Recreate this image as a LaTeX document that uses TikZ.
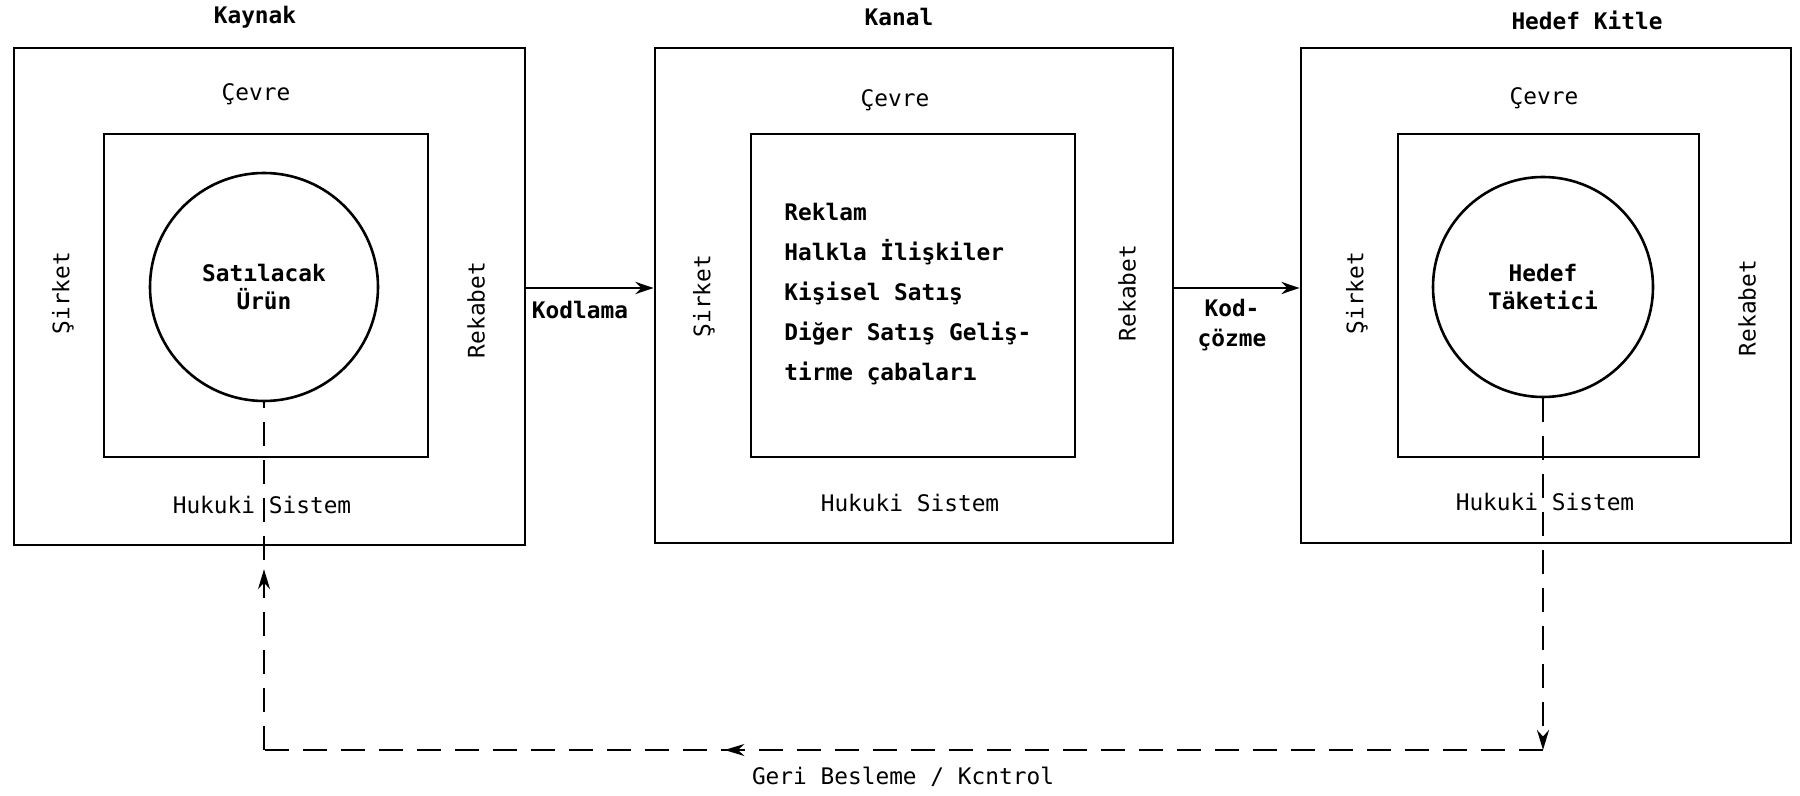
\documentclass[tikz,border=0pt]{standalone}
\usepackage{fontspec}
\setmainfont{DejaVu Sans Mono}
\usetikzlibrary{arrows.meta,decorations.markings}
\begin{document}
\begin{tikzpicture}[x=0.5pt,y=-0.5pt,
  box/.style={draw, line width=1.4pt, rectangle, inner sep=0pt},
  ring/.style={draw, line width=1.3pt, circle, inner sep=0pt, align=center, font=\fontsize{11.4}{14}\selectfont\bfseries},
  lbl/.style={font=\fontsize{11.4}{14}\selectfont, inner sep=0pt},
  blbl/.style={font=\fontsize{11.4}{15}\selectfont\bfseries, inner sep=0pt, align=center},
  side/.style={lbl, rotate=90},
  arr/.style={line width=1.4pt, -{Stealth[length=9pt,width=6pt]}},
  fb/.style={line width=1.3pt, dash pattern=on 12pt off 7pt},
  tipmark/.style={postaction={decorate}, decoration={markings, mark=at position #1 with {\arrow[solid,line width=1pt]{Stealth[length=10pt,width=6pt]}}}}
]
\useasboundingbox (0,0) rectangle (1800,796);
\fill[white] (0,0) rectangle (1800,796);

% Box 1 : Kaynak
\node[box, minimum width=255.5pt, minimum height=248.5pt] (o1) at (269.5,296.5) {};
\node[box, minimum width=162pt, minimum height=161.5pt] (i1) at (266,295.5) {};
\node[ring, minimum size=114pt] (c1) at (264,287) {Satılacak\\Ürün};
\node[blbl] (t1) at (255,17) {Kaynak};
\node[lbl] (cv1) at (256,94) {Çevre};
\node[side] (s1) at (63,293) {Şirket};
\node[side] (r1) at (476,310) {Rekabet};
\node[lbl] (h1) at (262,505) {Hukuki Sistem};

% Box 2 : Kanal
\node[box, minimum width=259pt, minimum height=247.5pt] (o2) at (914,295.5) {};
\node[box, minimum width=162pt, minimum height=161.5pt] (i2) at (913,295.5) {};
\node[blbl, anchor=west, align=left, font=\fontsize{11.4}{20}\selectfont\bfseries] (m2) at (784,294) {Reklam\\Halkla İlişkiler\\Kişisel Satış\\Diğer Satış Geliş-\\tirme çabaları};
\node[blbl] (t2) at (899,17) {Kanal};
\node[lbl] (cv2) at (895,100) {Çevre};
\node[side] (s2) at (704,296) {Şirket};
\node[side] (r2) at (1127,293) {Rekabet};
\node[lbl] (h2) at (910,503) {Hukuki Sistem};

% Box 3 : Hedef Kitle
\node[box, minimum width=245pt, minimum height=247.5pt] (o3) at (1546,295.5) {};
\node[box, minimum width=150.5pt, minimum height=161.5pt] (i3) at (1548.5,295.5) {};
\node[ring, minimum size=110pt] (c3) at (1543,287) {Hedef\\Täketici};
\node[blbl] (t3) at (1587,20) {Hedef Kitle};
\node[lbl] (cv3) at (1544,98) {Çevre};
\node[side] (s3) at (1357,293) {Şirket};
\node[side] (r3) at (1747,308) {Rekabet};
\node[lbl] (h3) at (1545,502) {Hukuki Sistem};

% Forward arrows
\coordinate (kodY) at (0,288);
\draw[arr] (o1.east |- kodY) -- (o2.west |- kodY);
\draw[arr] (o2.east |- kodY) -- (o3.west |- kodY);
\node[blbl] (kod) at (580,310) {Kodlama};
\node[blbl] (coz) at (1232,325) {Kod-\\çözme};

% Feedback loop
\coordinate (fbY) at (0,750);
\coordinate (brc) at (c3.south |- fbY);
\coordinate (blc) at (c1.south |- fbY);
\draw[fb, -{Stealth[length=10pt,width=6pt]}] (c3.south) -- (brc);
\draw[fb, tipmark=0.64] (brc) -- (blc);
\draw[fb, tipmark=0.52] (blc) -- (c1.south);
\node[lbl] (fbl) at (903,777) {Geri Besleme / Kcntrol};
\end{tikzpicture}
\end{document}
